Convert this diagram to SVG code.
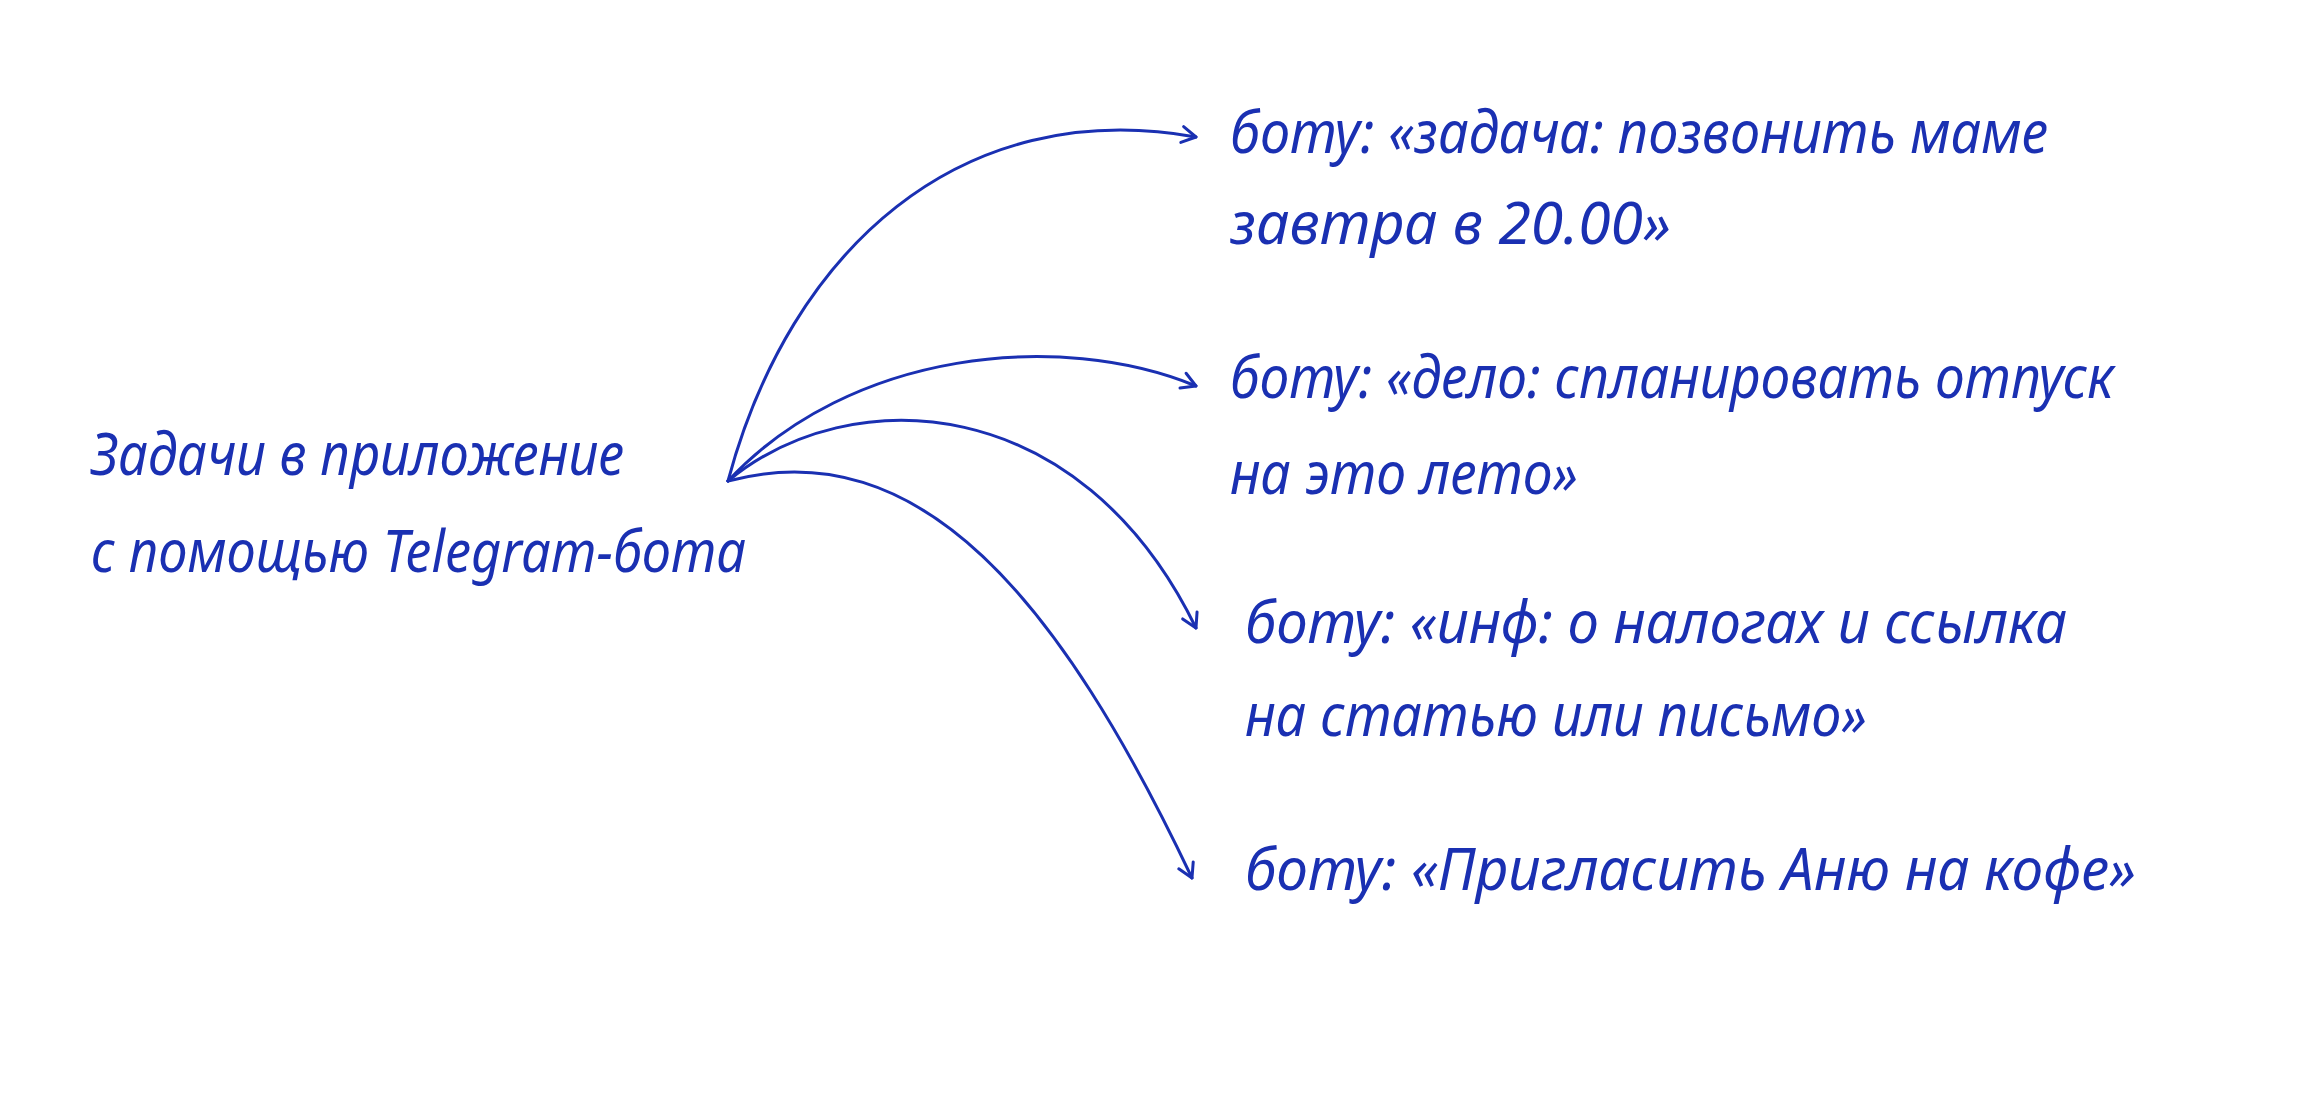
<svg xmlns="http://www.w3.org/2000/svg" width="2302" height="1093" viewBox="0 0 2302 1093">
<style>
.t{font-family:"Noto Sans","DejaVu Sans",sans-serif;font-style:italic;font-size:58px;fill:#1a30b2}
.c{fill:none;stroke:#1a30b2;stroke-width:3;stroke-linecap:round}
</style>
<defs>
<marker id="ah" viewBox="0 0 20 20" refX="18" refY="10" markerWidth="20" markerHeight="20" markerUnits="userSpaceOnUse" orient="auto">
<path d="M4,2 L18,10 L4,18" fill="none" stroke="#1a30b2" stroke-width="3" stroke-linecap="round" stroke-linejoin="round"/>
</marker>
</defs>
<rect width="2302" height="1093" fill="#fff"/>
<g id="source">
<text class="t" x="91" y="475" textLength="533" lengthAdjust="spacingAndGlyphs">Задачи в приложение</text>
<text class="t" x="91" y="572" textLength="655" lengthAdjust="spacingAndGlyphs">с помощью Telegram-бота</text>
</g>
<g id="connectors">
<path class="c" marker-end="url(#ah)" d="M728,481 C790,250 960,95 1196,137"/>
<path class="c" marker-end="url(#ah)" d="M728,481 C850,350 1060,330 1196,386"/>
<path class="c" marker-end="url(#ah)" d="M728,481 C850,380 1080,390 1196,628"/>
<path class="c" marker-end="url(#ah)" d="M728,481 C920,430 1060,600 1192,878"/>
</g>
<g id="task1">
<text class="t" x="1230" y="153" textLength="818" lengthAdjust="spacingAndGlyphs">боту: «задача: позвонить маме</text>
<text class="t" x="1230" y="244" textLength="441" lengthAdjust="spacingAndGlyphs">завтра в 20.00»</text>
</g>
<g id="task2">
<text class="t" x="1230" y="398" textLength="884" lengthAdjust="spacingAndGlyphs">боту: «дело: спланировать отпуск</text>
<text class="t" x="1230" y="494" textLength="348" lengthAdjust="spacingAndGlyphs">на это лето»</text>
</g>
<g id="task3">
<text class="t" x="1245" y="643" textLength="822" lengthAdjust="spacingAndGlyphs">боту: «инф: о налогах и ссылка</text>
<text class="t" x="1245" y="736" textLength="622" lengthAdjust="spacingAndGlyphs">на статью или письмо»</text>
</g>
<g id="task4">
<text class="t" x="1245" y="890" textLength="891" lengthAdjust="spacingAndGlyphs">боту: «Пригласить Аню на кофе»</text>
</g>
</svg>
